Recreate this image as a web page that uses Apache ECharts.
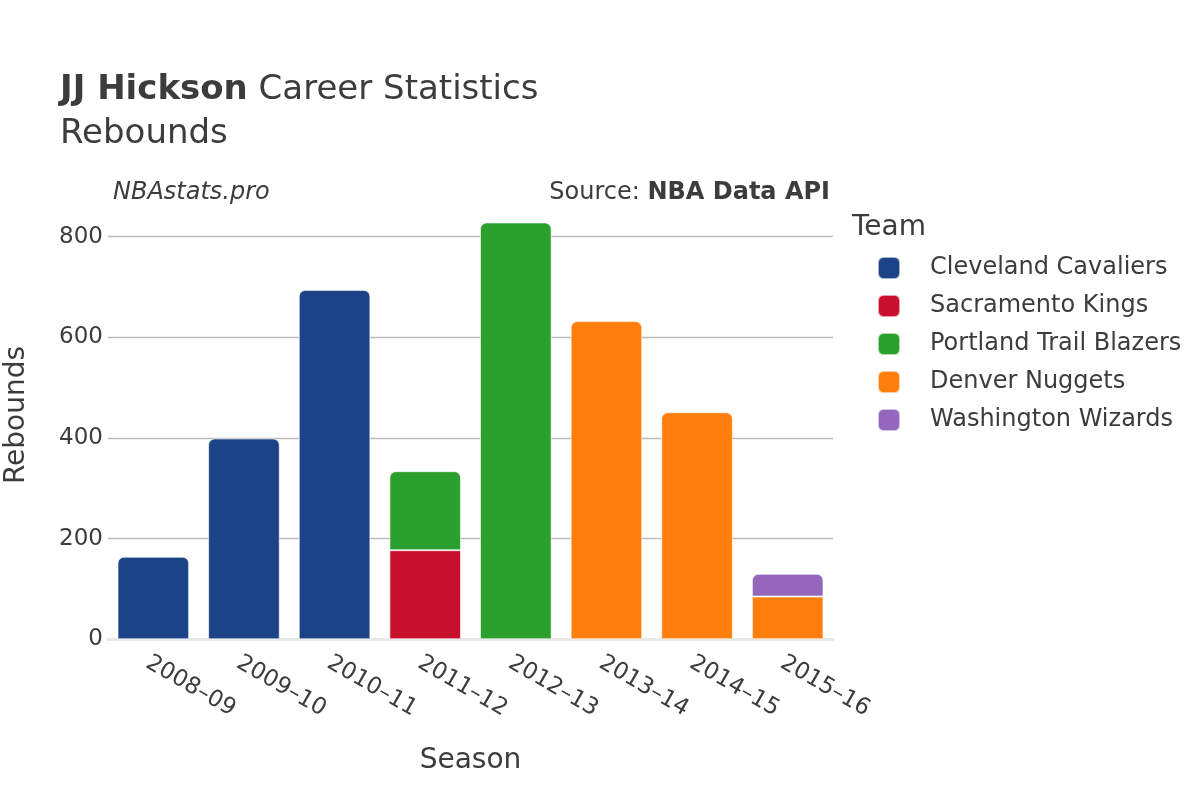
<!DOCTYPE html>
<html>
<head>
<meta charset="utf-8">
<script src="https://cdn.jsdelivr.net/npm/echarts@6/dist/echarts.min.js"></script>
<style>html,body{margin:0;padding:0;background:#fff}#c{width:1200px;height:800px}</style>
</head>
<body>
<div id="c"></div>
<script>
const seasons = ['2008–09','2009–10','2010–11','2011–12','2012–13','2013–14','2014–15','2015–16'];
const teams = ['Cleveland Cavaliers','Sacramento Kings','Portland Trail Blazers','Denver Nuggets','Washington Wizards'];
const teamColors = ['#1c4387','#c8102e','#2ca02c','#ff7f0e','#9467bd'];
const cleveland = [164, 399, 694, null, null, null, null, null];
const sacramento = [null, null, null, 177, null, null, null, null];
const portland = [null, null, null, 157, 828, null, null, null];
const denver = [null, null, null, null, null, 632, 451, 85];
const washington = [null, null, null, null, null, null, null, 45];
const yTicks = [0, 200, 400, 600, 800];

const seriesValues = [cleveland, sacramento, portland, denver, washington];
const FONT = 'DejaVu Sans';
const TXT = '#3c3c3c';

const topIdx = seasons.map((_, ci) => {
  let t = -1;
  seriesValues.forEach((arr, si) => { if (arr[ci] != null) t = si; });
  return t;
});

const series = teams.map((name, si) => ({
  name,
  type: 'bar',
  stack: 'total',
  barWidth: '79%',
  clip: false,
  itemStyle: { color: teamColors[si], borderColor: 'rgba(255,255,255,0.6)', borderWidth: 1 },
  data: seriesValues[si].map((v, ci) => v == null ? null : {
    value: v,
    itemStyle: { borderRadius: topIdx[ci] === si ? [6, 6, 0, 0] : 0 }
  })
}));

const chart = echarts.init(document.getElementById('c'));
chart.setOption({
  animation: false,
  backgroundColor: '#fff',
  textStyle: { fontFamily: FONT },
  title: [
    { text: '{b|JJ Hickson} Career Statistics', left: 60, top: 73, padding: 0,
      textStyle: { fontFamily: FONT, fontSize: 34, fontWeight: 'normal', color: TXT,
        rich: { b: { fontFamily: FONT, fontSize: 34, fontWeight: 'bold', color: TXT } } } },
    { text: 'Rebounds', left: 60, top: 117, padding: 0,
      textStyle: { fontFamily: FONT, fontSize: 34, fontWeight: 'normal', color: TXT } },
    { text: 'NBAstats.pro', left: 113, top: 181, padding: 0,
      textStyle: { fontFamily: FONT, fontSize: 24, fontStyle: 'italic', fontWeight: 'normal', color: TXT } },
    { text: 'Source: {b|NBA Data API}', right: 370, top: 181, padding: 0,
      textStyle: { fontFamily: FONT, fontSize: 24, fontWeight: 'normal', color: TXT,
        rich: { b: { fontFamily: FONT, fontSize: 24, fontWeight: 'bold', color: TXT } } } },
    { text: 'Team', left: 852, top: 214, padding: 0,
      textStyle: { fontFamily: FONT, fontSize: 28, fontWeight: 'normal', color: TXT } }
  ],
  graphic: [
    { type: 'text', x: 17, y: 415, rotation: Math.PI / 2,
      style: { text: 'Rebounds', font: '28px "DejaVu Sans"', fill: TXT, align: 'center', verticalAlign: 'middle' } }
  ],
  legend: {
    orient: 'vertical',
    left: 877, top: 256, padding: 0,
    icon: 'roundRect',
    itemWidth: 22, itemHeight: 22, itemGap: 14,
    textStyle: { fontFamily: FONT, fontSize: 24, color: TXT, lineHeight: 22, height: 22, padding: [0, 0, 0, 25] },
    data: teams
  },
  grid: { left: 108, right: 367, top: 216.4, bottom: 160.7, containLabel: false },
  xAxis: {
    type: 'category',
    data: seasons,
    name: 'Season',
    nameLocation: 'middle',
    nameGap: 107,
    nameTextStyle: { fontFamily: FONT, fontSize: 28, color: TXT },
    axisLine: { show: true, lineStyle: { color: '#e8e8e8', width: 3 } },
    axisTick: { show: false },
    axisLabel: { rotate: -30, fontFamily: FONT, fontSize: 23, color: TXT, margin: 12, align: 'left', verticalAlign: 'top' }
  },
  yAxis: {
    type: 'value',
    min: 0, max: 840, interval: 200,
    axisLine: { show: false },
    axisTick: { show: false },
    axisLabel: { fontFamily: FONT, fontSize: 23, color: TXT, margin: 5, showMaxLabel: false,
      formatter: v => yTicks.includes(v) ? String(v) : '' },
    splitLine: { lineStyle: { color: ['#bdbdbd', '#bdbdbd', '#bdbdbd', '#bdbdbd', '#bdbdbd', 'rgba(0,0,0,0)'], width: 1.3 } }
  },
  series
});
</script>
</body>
</html>
